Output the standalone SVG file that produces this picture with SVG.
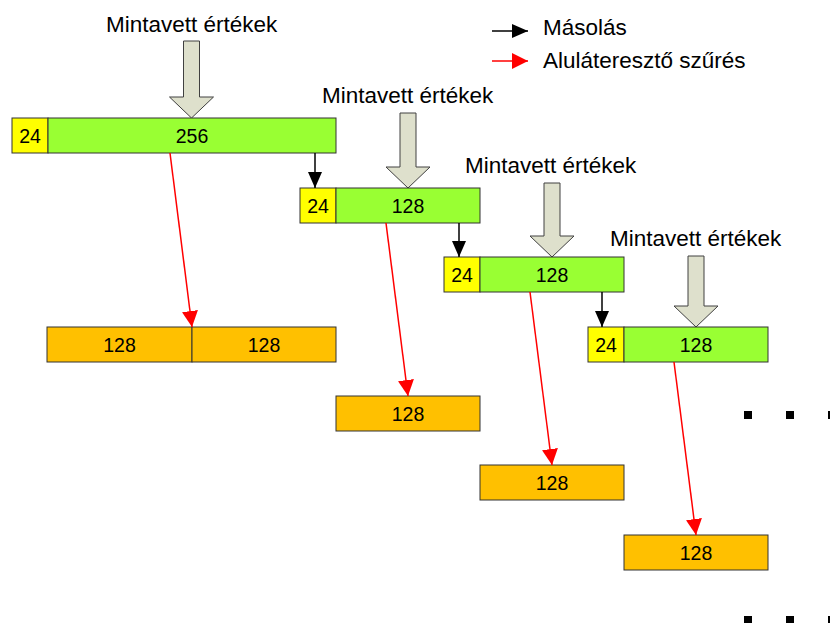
<svg xmlns="http://www.w3.org/2000/svg" width="830" height="623" viewBox="0 0 830 623">
<style>
text{font-family:"Liberation Sans",Arial,sans-serif;fill:#000}
.lbl{font-size:22.5px}
.num{font-size:19.5px;text-anchor:middle;dominant-baseline:central}
.y{fill:#FFFF00;stroke:#333;stroke-width:1}
.g{fill:#99FF33;stroke:#333;stroke-width:1}
.o{fill:#FFC000;stroke:#333;stroke-width:1}
.in{fill:#DEE0CC;stroke:#404040;stroke-width:1}
.blk{stroke:#000;stroke-width:1.5;fill:none}
.red{stroke:#FF0000;stroke-width:1.5;fill:none}
.dot{fill:#000}
</style>
<defs>
<marker id="ab" viewBox="0 0 16 14" refX="16" refY="7" markerWidth="16" markerHeight="14" markerUnits="userSpaceOnUse" orient="auto"><path d="M0,0 L16,7 L0,14 Z" fill="#000"/></marker>
<marker id="ar" viewBox="0 0 16 16" refX="16" refY="8" markerWidth="16" markerHeight="16" markerUnits="userSpaceOnUse" orient="auto"><path d="M0,0 L16,8 L0,16 Z" fill="#FF0000"/></marker>
</defs>

<g id="legend">
<line x1="492" y1="31" x2="528" y2="31" class="blk" marker-end="url(#ab)"/>
<text class="lbl" x="543" y="35">Másolás</text>
<line x1="492" y1="61" x2="528" y2="61" class="red" marker-end="url(#ar)"/>
<text class="lbl" x="543" y="68">Aluláteresztő szűrés</text>
</g>

<g id="input1">
<text class="lbl" x="106" y="32">Mintavett értékek</text>
<path class="in" d="M183.5,41 L199.5,41 L199.5,97 L213.5,97 L191.5,118 L169.5,97 L183.5,97 Z"/>
</g>
<g id="input2">
<text class="lbl" x="322" y="103">Mintavett értékek</text>
<path class="in" d="M400,113 L416,113 L416,167 L430,167 L408,188 L386,167 L400,167 Z"/>
</g>
<g id="input3">
<text class="lbl" x="465" y="173">Mintavett értékek</text>
<path class="in" d="M544,183 L560,183 L560,236 L574,236 L552,257 L530,236 L544,236 Z"/>
</g>
<g id="input4">
<text class="lbl" x="610" y="246">Mintavett értékek</text>
<path class="in" d="M688,256 L704,256 L704,306 L718,306 L696,327 L674,306 L688,306 Z"/>
</g>

<g id="buffer1">
<rect class="y" x="12" y="118" width="36" height="35"/>
<text class="num" x="30" y="135.5">24</text>
<rect class="g" x="48" y="118" width="288" height="35"/>
<text class="num" x="192" y="135.5">256</text>
</g>
<g id="buffer2">
<rect class="y" x="300" y="188" width="36" height="35"/>
<text class="num" x="318" y="205.5">24</text>
<rect class="g" x="336" y="188" width="144" height="35"/>
<text class="num" x="408" y="205.5">128</text>
</g>
<g id="buffer3">
<rect class="y" x="444" y="257" width="36" height="35"/>
<text class="num" x="462" y="274.5">24</text>
<rect class="g" x="480" y="257" width="144" height="35"/>
<text class="num" x="552" y="274.5">128</text>
</g>
<g id="buffer4">
<rect class="y" x="588" y="327" width="36" height="35"/>
<text class="num" x="606" y="344.5">24</text>
<rect class="g" x="624" y="327" width="144" height="35"/>
<text class="num" x="696" y="344.5">128</text>
</g>

<g id="out1">
<rect class="o" x="47" y="327" width="145" height="35"/>
<text class="num" x="119.5" y="344.5">128</text>
<rect class="o" x="192" y="327" width="144" height="35"/>
<text class="num" x="264" y="344.5">128</text>
</g>
<g id="out2">
<rect class="o" x="336" y="396" width="144" height="35"/>
<text class="num" x="408" y="413.5">128</text>
</g>
<g id="out3">
<rect class="o" x="480" y="465" width="144" height="35"/>
<text class="num" x="552" y="482.5">128</text>
</g>
<g id="out4">
<rect class="o" x="624" y="535" width="144" height="35"/>
<text class="num" x="696" y="552.5">128</text>
</g>

<g id="connectors">
<line x1="315" y1="153" x2="315" y2="188" class="blk" marker-end="url(#ab)"/>
<line x1="459" y1="223" x2="459" y2="257" class="blk" marker-end="url(#ab)"/>
<line x1="602" y1="292" x2="602" y2="327" class="blk" marker-end="url(#ab)"/>
<line x1="170" y1="153" x2="192" y2="327" class="red" marker-end="url(#ar)"/>
<line x1="386" y1="223" x2="408" y2="396" class="red" marker-end="url(#ar)"/>
<line x1="530" y1="292" x2="552" y2="465" class="red" marker-end="url(#ar)"/>
<line x1="674" y1="362" x2="696" y2="535" class="red" marker-end="url(#ar)"/>
</g>

<g id="ellipsis">
<rect class="dot" x="744" y="411" width="8" height="8"/>
<rect class="dot" x="786" y="411" width="8" height="8"/>
<rect class="dot" x="828" y="411" width="8" height="8"/>
<rect class="dot" x="744" y="616" width="8" height="8"/>
<rect class="dot" x="786" y="616" width="8" height="8"/>
<rect class="dot" x="828" y="616" width="8" height="8"/>
</g>
</svg>
